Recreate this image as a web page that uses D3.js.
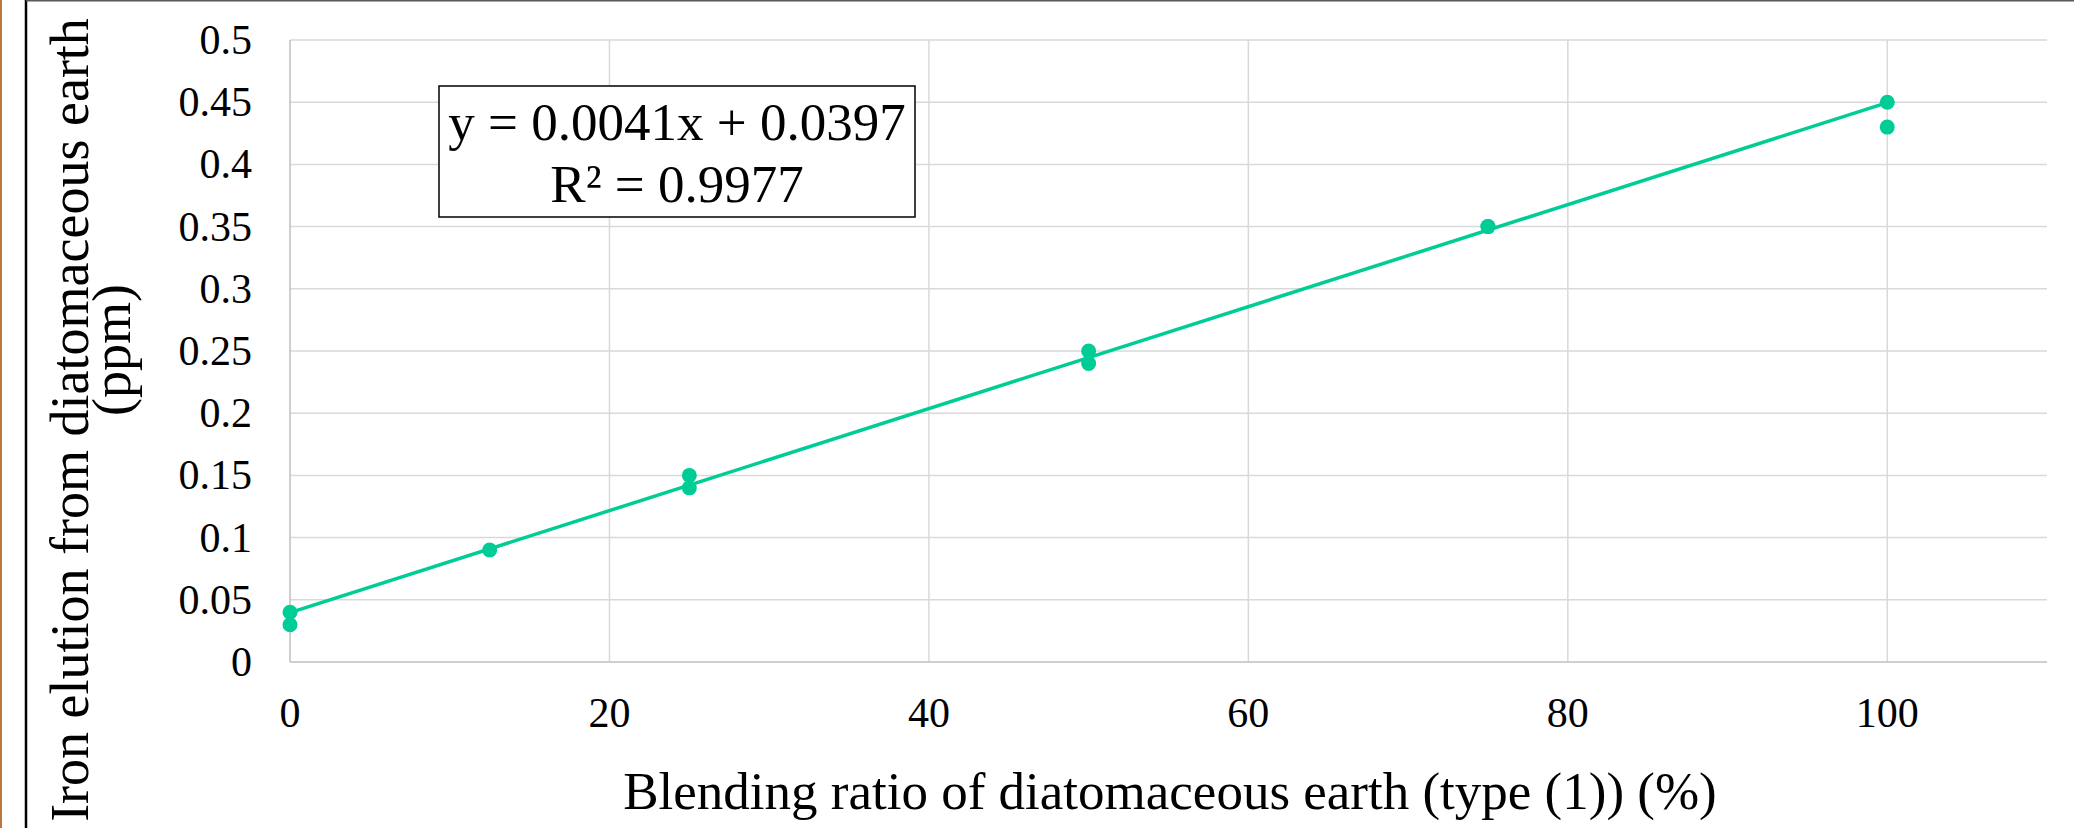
<!DOCTYPE html>
<html>
<head>
<meta charset="utf-8">
<script src="https://cdn.jsdelivr.net/npm/d3@7/dist/d3.min.js"></script>
<style>
  html, body { margin: 0; padding: 0; background: #fff; }
  svg { display: block; font-family: "Liberation Serif", "Times New Roman", serif; }
</style>
</head>
<body>
<svg></svg>
<script>
var width = 2074;
var height = 828;

// data
var blendRatio = [0, 0, 12.5, 25, 25, 50, 50, 75, 75, 100, 100];
var ironElution = [0.04, 0.03, 0.09, 0.15, 0.14, 0.25, 0.24, 0.35, 0.35, 0.45, 0.43];
var xTicks = [0, 20, 40, 60, 80, 100];
var yTicks = [0, 0.05, 0.1, 0.15, 0.2, 0.25, 0.3, 0.35, 0.4, 0.45, 0.5];
var trendSlope = 0.0041;
var trendIntercept = 0.0397;
var trendRange = [0, 100];
var equationLines = ["y = 0.0041x + 0.0397", "R² = 0.9977"];

var green = "#00cc96";

var svg = d3.select("svg")
    .attr("width", width)
    .attr("height", height);

// frame lines round the picture
svg.append("line")
    .attr("x1", 1).attr("x2", 1).attr("y1", 0).attr("y2", height)
    .style("stroke", "#b9793a").style("stroke-width", 2);
svg.append("line")
    .attr("x1", 26).attr("x2", 26).attr("y1", 0).attr("y2", height)
    .style("stroke", "#000").style("stroke-width", 2.5);
svg.append("line")
    .attr("x1", 26).attr("x2", width).attr("y1", 0.75).attr("y2", 0.75)
    .style("stroke", "#595959").style("stroke-width", 1.5);

var x = d3.scaleLinear().domain([0, 110]).range([290, 2047]);
var y = d3.scaleLinear().domain([0, 0.5]).range([662, 40]);

var g = svg.append("g");

// gridlines
g.selectAll(".hgrid")
    .data(yTicks.filter(function(d) { return d > 0; }))
  .enter().append("line")
    .attr("class", "hgrid")
    .attr("x1", x(0)).attr("x2", x(110))
    .attr("y1", function(d) { return y(d); })
    .attr("y2", function(d) { return y(d); })
    .style("stroke", "#d9d9d9").style("stroke-width", 1.5);

g.selectAll(".vgrid")
    .data(xTicks.filter(function(d) { return d > 0; }))
  .enter().append("line")
    .attr("class", "vgrid")
    .attr("x1", function(d) { return x(d); })
    .attr("x2", function(d) { return x(d); })
    .attr("y1", y(0.5)).attr("y2", y(0))
    .style("stroke", "#d9d9d9").style("stroke-width", 1.5);

// axis lines
g.append("line")
    .attr("x1", x(0)).attr("x2", x(110)).attr("y1", y(0)).attr("y2", y(0))
    .style("stroke", "#bfbfbf").style("stroke-width", 1.5);
g.append("line")
    .attr("x1", x(0)).attr("x2", x(0)).attr("y1", y(0)).attr("y2", y(0.5))
    .style("stroke", "#bfbfbf").style("stroke-width", 1.5);

// tick labels
var fmtY = function(d) { return String(+d.toFixed(2)); };

g.selectAll(".ylab")
    .data(yTicks)
  .enter().append("text")
    .attr("class", "ylab")
    .attr("x", 252)
    .attr("y", function(d) { return y(d) + 14; })
    .attr("text-anchor", "end")
    .style("font-size", "42px")
    .text(fmtY);

g.selectAll(".xlab")
    .data(xTicks)
  .enter().append("text")
    .attr("class", "xlab")
    .attr("x", function(d) { return x(d); })
    .attr("y", 727)
    .attr("text-anchor", "middle")
    .style("font-size", "42px")
    .text(function(d) { return d; });

// axis titles
svg.append("text")
    .attr("x", 1170).attr("y", 809)
    .attr("text-anchor", "middle")
    .style("font-size", "53px")
    .text("Blending ratio of diatomaceous earth (type (1)) (%)");

var yTitle = svg.append("text")
    .attr("transform", "translate(88,420) rotate(-90)")
    .attr("text-anchor", "middle")
    .style("font-size", "54px");
yTitle.append("tspan").attr("x", 0).attr("y", 0)
    .text("Iron elution from diatomaceous earth");
yTitle.append("tspan").attr("x", 70).attr("y", 42)
    .text("(ppm)");

// trendline
var line = d3.line()
    .x(function(d) { return x(d); })
    .y(function(d) { return y(trendSlope * d + trendIntercept); });

g.append("path")
    .datum(trendRange)
    .attr("d", line)
    .style("fill", "none")
    .style("stroke", green)
    .style("stroke-width", 3.5);

// points
g.selectAll(".dot")
    .data(d3.range(blendRatio.length))
  .enter().append("circle")
    .attr("class", "dot")
    .attr("cx", function(i) { return x(blendRatio[i]); })
    .attr("cy", function(i) { return y(ironElution[i]); })
    .attr("r", 7.5)
    .style("fill", green);

// equation box
var box = svg.append("g");
box.append("rect")
    .attr("x", 439).attr("y", 86)
    .attr("width", 476).attr("height", 131)
    .style("fill", "#fff")
    .style("stroke", "#000").style("stroke-width", 1.5);
box.selectAll("text")
    .data(equationLines)
  .enter().append("text")
    .attr("x", 677)
    .attr("y", function(d, i) { return 140 + i * 62; })
    .attr("text-anchor", "middle")
    .style("font-size", "53px")
    .text(function(d) { return d; });
</script>
</body>
</html>
